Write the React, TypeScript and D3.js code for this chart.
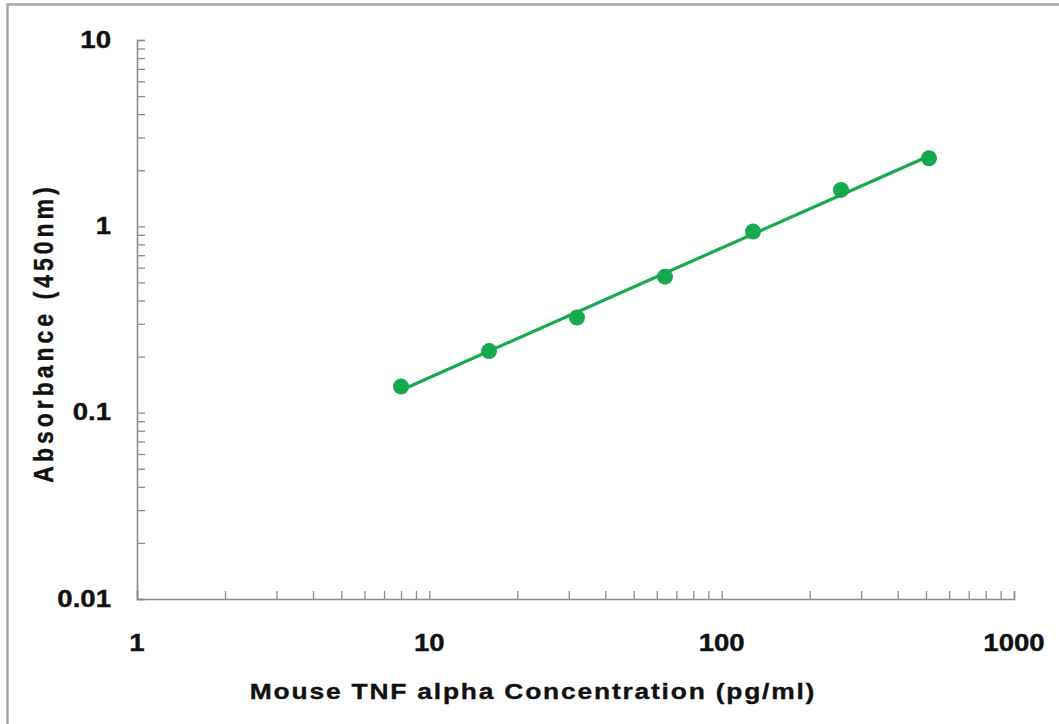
import React, { useEffect, useRef } from 'react';
import * as d3 from 'd3';

const concentrations = [8, 16, 32, 64, 128, 256, 512];
const absorbance = [0.138, 0.214, 0.324, 0.537, 0.937, 1.569, 2.32];
const xTickLabels = [1, 10, 100, 1000];
const yTickLabels = [0.01, 0.1, 1, 10];

const xTitle = 'Mouse TNF alpha Concentration (pg/ml)';
const yTitle = 'Absorbance (450nm)';

const App: React.FC = () => {
  const svgRef = useRef<SVGSVGElement>(null);

  useEffect(() => {
    if (!svgRef.current) return;

    const W = 1059;
    const H = 724;
    const margin = { top: 40, right: 45, bottom: 125, left: 137 };
    const width = W - margin.left - margin.right;
    const height = H - margin.top - margin.bottom;
    const stretch = 1.2;

    d3.select(svgRef.current).selectAll('*').remove();

    const root = d3.select(svgRef.current)
      .attr('width', W)
      .attr('height', H);

    root.append('rect')
      .attr('x', 0).attr('y', 0).attr('width', W).attr('height', H)
      .attr('fill', '#fff');

    // outer frame (only left / top visible)
    root.append('rect')
      .attr('x', 7.5).attr('y', 4.5)
      .attr('width', W + 10).attr('height', H + 10)
      .attr('fill', 'none')
      .attr('stroke', '#a6a6a6')
      .attr('stroke-width', 2.5);

    const svg = root.append('g')
      .attr('transform', `translate(${margin.left},${margin.top})`);

    const x = d3.scaleLog().domain([1, 1000]).range([0, width]);
    const y = d3.scaleLog().domain([0.01, 10]).range([height, 0]);

    const font = '"Liberation Sans", Arial, sans-serif';

    const xAxis = svg.append('g')
      .attr('transform', `translate(0,${height})`)
      .call(d3.axisBottom(x).tickValues(x.ticks()).tickSize(-8).tickFormat(() => ''));

    const yAxis = svg.append('g')
      .call(d3.axisLeft(y).tickValues(y.ticks()).tickSize(-8).tickFormat(() => ''));

    [xAxis, yAxis].forEach(a => {
      a.selectAll('.domain').attr('stroke', '#8c8c8c').attr('stroke-width', 1.6);
      a.selectAll('.tick line').attr('stroke', '#8c8c8c').attr('stroke-width', 1.3);
    });

    const bold = (sel: d3.Selection<SVGTextElement, any, any, any>, size: number) =>
      sel.attr('font-family', font)
        .attr('font-weight', 'bold')
        .attr('font-size', size)
        .attr('fill', '#111')
        .attr('stroke', '#111')
        .attr('stroke-width', 0.35);

    svg.append('g')
      .selectAll('text')
      .data(xTickLabels)
      .enter()
      .append('text')
      .attr('transform', d => `translate(${x(d)},${height + 52}) scale(${stretch},1)`)
      .attr('text-anchor', 'middle')
      .call(s => bold(s, 23))
      .text(d => String(d));

    svg.append('g')
      .selectAll('text')
      .data(yTickLabels)
      .enter()
      .append('text')
      .attr('transform', d => `translate(-26,${y(d) + 7.5}) scale(${stretch},1)`)
      .attr('text-anchor', 'end')
      .call(s => bold(s, 23))
      .text(d => String(d));

    const data = concentrations.map((c, i) => ({ c, v: absorbance[i] }));

    // straight trend line fitted in log-log space
    const lx = data.map(d => Math.log10(d.c));
    const ly = data.map(d => Math.log10(d.v));
    const mx = d3.mean(lx) as number;
    const my = d3.mean(ly) as number;
    const slope = d3.sum(lx.map((v, i) => (v - mx) * (ly[i] - my))) / d3.sum(lx.map(v => (v - mx) ** 2));
    const icpt = my - slope * mx;
    const ends = d3.extent(concentrations) as [number, number];
    const fit = ends.map(c => ({ c, v: Math.pow(10, icpt + slope * Math.log10(c)) }));

    const line = d3.line<{ c: number; v: number }>()
      .x(d => x(d.c))
      .y(d => y(d.v));

    svg.append('path')
      .datum(fit)
      .attr('fill', 'none')
      .attr('stroke', '#17a94d')
      .attr('stroke-width', 3.2)
      .attr('d', line);

    svg.selectAll('.dot')
      .data(data)
      .enter()
      .append('circle')
      .attr('cx', d => x(d.c))
      .attr('cy', d => y(d.v))
      .attr('r', 8)
      .attr('fill', '#17a94d');

    root.append('text')
      .attr('transform', `translate(533,699) scale(${stretch},1)`)
      .attr('text-anchor', 'middle')
      .attr('letter-spacing', 1.5)
      .call(s => bold(s, 22))
      .text(xTitle);

    root.append('text')
      .attr('transform', `translate(53,333) rotate(-90) scale(1,${stretch})`)
      .attr('text-anchor', 'middle')
      .attr('letter-spacing', 4)
      .call(s => bold(s, 23))
      .text(yTitle);
  }, []);

  return (
    <svg ref={svgRef} style={{ position: 'absolute', left: 0, top: 0, display: 'block' }}></svg>
  );
};

export default App;
